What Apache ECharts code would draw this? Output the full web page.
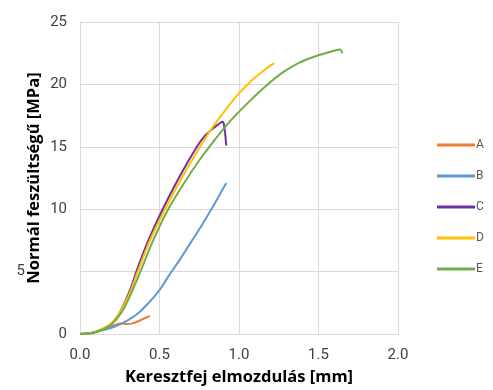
<!DOCTYPE html>
<html>
<head>
<meta charset="utf-8">
<script src="https://cdn.jsdelivr.net/npm/echarts@6/dist/echarts.min.js"></script>
<style>html,body{margin:0;padding:0;background:#fff}#c{width:493px;height:390px}</style>
</head>
<body>
<div id="c"></div>
<script>
const seriesNames = ['A', 'B', 'C', 'D', 'E'];
const seriesColors = ['#ED7D31', '#5B9BD5', '#7030A0', '#FFC000', '#70AD47'];
const dataA = [[0,0],[0.08,0.1],[0.16,0.42],[0.22,0.72],[0.26,0.84],[0.29,0.8],[0.33,0.85],[0.38,1.1],[0.41,1.28],[0.44,1.45]];
const dataB = [[0,0],[0.08,0.1],[0.16,0.35],[0.22,0.6],[0.3,1.1],[0.36,1.6],[0.41,2.2],[0.46,2.9],[0.51,3.7],[0.56,4.7],[0.63,6.0],[0.7,7.4],[0.77,8.8],[0.84,10.3],[0.88,11.2],[0.92,12.1]];
const dataC = [[0,0],[0.08,0.1],[0.16,0.5],[0.2,0.85],[0.24,1.5],[0.28,2.5],[0.32,3.7],[0.36,5.2],[0.43,7.5],[0.52,10],[0.63,12.7],[0.735,15],[0.78,15.8],[0.83,16.4],[0.87,16.8],[0.895,17.0],[0.905,16.8],[0.915,15.8],[0.92,15.1]];
const dataD = [[0,0],[0.08,0.12],[0.16,0.55],[0.2,0.9],[0.24,1.5],[0.28,2.4],[0.32,3.5],[0.36,4.9],[0.44,7.5],[0.535,10],[0.64,12.5],[0.755,15],[0.83,16.5],[0.9,17.7],[0.98,19.0],[1.07,20.2],[1.15,21.05],[1.22,21.7]];
const dataE = [[0,0],[0.08,0.1],[0.16,0.45],[0.2,0.8],[0.24,1.35],[0.28,2.15],[0.32,3.2],[0.38,5.0],[0.46,7.5],[0.555,10],[0.65,12.0],[0.755,14.0],[0.85,15.6],[0.94,17.0],[1.07,18.7],[1.18,20],[1.28,21.0],[1.38,21.75],[1.49,22.3],[1.57,22.6],[1.635,22.8],[1.65,22.5]];
const allData = [dataA, dataB, dataC, dataD, dataE];
const xTitle = 'Keresztfej elmozdulás [mm]';
const yTitle = 'Normál feszültségű [MPa]';

const chart = echarts.init(document.getElementById('c'), null, {renderer: 'canvas'});
const gridColor = '#d9d9d9';
chart.setOption({
  backgroundColor: '#fff',
  animation: false,
  grid: {left: 80, right: 95, top: 22, bottom: 56, containLabel: false, outerBoundsMode: 'none'},
  legend: {
    orient: 'vertical',
    left: 437,
    top: 138,
    padding: 0,
    icon: 'rect',
    itemWidth: 38,
    itemHeight: 3,
    itemGap: 17,
    textStyle: {color: '#595959', fontSize: 12, fontFamily: 'Roboto', lineHeight: 14, padding: [0,0,0,-4]},
    data: seriesNames
  },
  xAxis: {
    type: 'value', min: 0, max: 2, interval: 0.5,
    name: xTitle, nameLocation: 'middle', nameGap: 35, nameMoveOverlap: false,
    nameTextStyle: {fontFamily: 'Open Sans', fontWeight: 'bold', fontSize: 16.5, color: '#000'},
    axisLine: {show: true, lineStyle: {color: gridColor}},
    axisTick: {show: false},
    axisLabel: {margin: 14, fontFamily: 'Roboto', fontSize: 15, color: '#404040', formatter: v => v.toFixed(1)},
    splitLine: {show: true, lineStyle: {color: gridColor}}
  },
  yAxis: {
    type: 'value', min: 0, max: 25, interval: 5,
    name: yTitle, nameLocation: 'middle', nameGap: 37, nameRotate: 90, nameMoveOverlap: false,
    nameTextStyle: {fontFamily: 'Open Sans', fontWeight: 'bold', fontSize: 16.5, color: '#000'},
    axisLine: {show: true, lineStyle: {color: gridColor}},
    axisTick: {show: false},
    axisLabel: {margin: 13, fontFamily: 'Roboto', fontSize: 15, color: '#404040',
      formatter: v => v === 5 ? '{s|5}' : String(v),
      rich: {s: {padding: [0, 42, 0, 0], fontFamily: 'Roboto', fontSize: 15, color: '#404040'}}},
    splitLine: {show: true, lineStyle: {color: gridColor}}
  },
  series: seriesNames.map((n, i) => ({
    name: n, type: 'line', data: allData[i], showSymbol: false, symbol: 'none',
    smooth: 0.3, lineStyle: {width: 2, color: seriesColors[i]}, itemStyle: {color: seriesColors[i]}
  }))
});
</script>
</body>
</html>
